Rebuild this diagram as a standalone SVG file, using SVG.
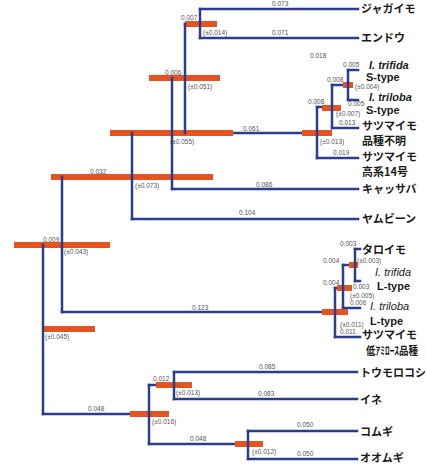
<svg xmlns="http://www.w3.org/2000/svg" width="427" height="465" viewBox="0 0 427 465">
<style>
.br{stroke:#2b3d8e;stroke-width:2.5;fill:none;stroke-linecap:square}
.bar{stroke:#e5531f;stroke-width:6}
.n{font-family:"Liberation Sans",Arial,sans-serif;font-size:6.5px;fill:#555}
.jp{font-family:"Noto Sans CJK JP",sans-serif;font-size:11px;font-weight:bold;fill:#1a1a1a}
.sp{font-family:"Liberation Sans",Arial,sans-serif;font-size:11px;font-style:italic;font-weight:bold;fill:#1a1a1a}
.sr{font-family:"Liberation Sans",Arial,sans-serif;font-size:11px;font-style:italic;fill:#1a1a1a}
.ty{font-family:"Liberation Sans",Arial,sans-serif;font-size:11px;font-weight:bold;fill:#1a1a1a}
</style>
<rect width="427" height="465" fill="#fff"/>
<g id="connectors">
<path class="br" d="M43 245H62 M62 177H132 M132 133H172 M172 78H185 M185 24H200 M317 107H332 M332 85H348 M335 288H343 M343 265H355 M149 385H174 M43 414H149"/>
<path class="br" d="M200 9H358 M200 38H358 M185 133H317 M348 70H358 M348 100H358 M332 128H358 M317 158H358 M172 189H358 M132 219H358 M62 312H335 M355 249H360 M355 281H360 M343 308H360 M335 337H360 M174 372H357 M174 399H357 M149 444H248 M248 431H357 M248 459H357"/>
</g>
<g id="bars">
<line class="bar" x1="42" y1="329" x2="95" y2="329"/>
<line class="bar" x1="14" y1="245" x2="110" y2="245"/>
<line class="bar" x1="51" y1="177" x2="213" y2="177"/>
<line class="bar" x1="110" y1="133" x2="233" y2="133"/>
<line class="bar" x1="149" y1="78" x2="220" y2="78"/>
<line class="bar" x1="185" y1="24" x2="217" y2="24"/>
<line class="bar" x1="302" y1="133" x2="332" y2="133"/>
<line class="bar" x1="322" y1="108" x2="341" y2="108"/>
<line class="bar" x1="343" y1="85" x2="353" y2="85"/>
<line class="bar" x1="322" y1="312" x2="348" y2="312"/>
<line class="bar" x1="337" y1="288" x2="352" y2="288"/>
<line class="bar" x1="349" y1="265" x2="358" y2="265"/>
<line class="bar" x1="130" y1="414" x2="169" y2="414"/>
<line class="bar" x1="156" y1="385" x2="192" y2="385"/>
<line class="bar" x1="235" y1="444" x2="263" y2="444"/>
</g>
<g id="node-root"><path class="br" d="M43 245V414"/><text class="n" x="45" y="339">(±0.045)</text></g>
<g id="node-A"><path class="br" d="M62 177V312"/><text class="n" x="43" y="242">0.009</text><text class="n" x="64" y="254">(±0.043)</text></g>
<g id="node-B"><path class="br" d="M132 133V219"/><text class="n" x="90" y="174">0.032</text><text class="n" x="135" y="188">(±0.073)</text></g>
<g id="node-C"><path class="br" d="M172 78V189"/><text class="n" x="170" y="144">(±0.055)</text></g>
<g id="node-D"><path class="br" d="M185 24V133"/><text class="n" x="165" y="75">0.006</text><text class="n" x="188" y="89">(±0.051)</text></g>
<g id="node-E"><path class="br" d="M200 9V38"/><text class="n" x="181" y="20">0.007</text><text class="n" x="203" y="35">(±0.014)</text></g>
<g id="node-I"><path class="br" d="M317 107V158"/><text class="n" x="308" y="104">0.008</text><text class="n" x="320" y="144">(±0.013)</text></g>
<g id="node-J"><path class="br" d="M332 85V128"/><text class="n" x="327" y="82">0.008</text><text class="n" x="336" y="116">(±0.007)</text></g>
<g id="node-K"><path class="br" d="M348 70V100"/><text class="n" x="355" y="89">(±0.004)</text></g>
<g id="node-L"><path class="br" d="M335 288V337"/><text class="n" x="340" y="327">(±0.011)</text></g>
<g id="node-M"><path class="br" d="M343 265V308"/><text class="n" x="323" y="285">0.004</text><text class="n" x="350" y="298">(±0.005)</text></g>
<g id="node-N"><path class="br" d="M355 249V281"/><text class="n" x="323" y="263">0.004</text><text class="n" x="357" y="263">(±0.003)</text></g>
<g id="node-F"><path class="br" d="M149 385V444"/><text class="n" x="152" y="424">(±0.016)</text></g>
<g id="node-G"><path class="br" d="M174 372V399"/><text class="n" x="153" y="381">0.012</text><text class="n" x="176" y="395">(±0.013)</text></g>
<g id="node-H"><path class="br" d="M248 431V459"/><text class="n" x="252" y="454">(±0.012)</text></g>
<g id="branch-labels">
<text class="n" x="272" y="6">0.073</text>
<text class="n" x="272" y="35">0.071</text>
<text class="n" x="310" y="58">0.018</text>
<text class="n" x="343" y="67">0.005</text>
<text class="n" x="348" y="106">0.005</text>
<text class="n" x="339" y="125">0.013</text>
<text class="n" x="333" y="155">0.019</text>
<text class="n" x="243" y="131">0.061</text>
<text class="n" x="256" y="187">0.086</text>
<text class="n" x="239" y="215">0.104</text>
<text class="n" x="340" y="246">0.003</text>
<text class="n" x="353" y="289">0.003</text>
<text class="n" x="350" y="305">0.006</text>
<text class="n" x="340" y="334">0.011</text>
<text class="n" x="192" y="310">0.123</text>
<text class="n" x="88" y="411">0.048</text>
<text class="n" x="259" y="369">0.085</text>
<text class="n" x="258" y="396">0.083</text>
<text class="n" x="190" y="441">0.048</text>
<text class="n" x="297" y="427">0.050</text>
<text class="n" x="297" y="456">0.050</text>
</g>
<g id="tip-jagaimo"><text class="jp" x="361" y="13">ジャガイモ</text></g>
<g id="tip-endou"><text class="jp" x="361" y="42">エンドウ</text></g>
<g id="tip-trifida-S"><text class="sp" x="369" y="69">I. trifida</text><text class="ty" x="366" y="81">S-type</text></g>
<g id="tip-triloba-S"><text class="sp" x="369" y="101">I. triloba</text><text class="ty" x="366" y="114">S-type</text></g>
<g id="tip-satsumaimo-unknown"><text class="jp" x="362" y="130">サツマイモ</text><text class="jp" x="362" y="145">品種不明</text></g>
<g id="tip-satsumaimo-kokei"><text class="jp" x="362" y="161">サツマイモ</text><text class="jp" x="362" y="176">高系14号</text></g>
<g id="tip-cassava"><text class="jp" x="362" y="193">キャッサバ</text></g>
<g id="tip-yambean"><text class="jp" x="362" y="223">ヤムビーン</text></g>
<g id="tip-taroimo"><text class="jp" x="362" y="254">タロイモ</text></g>
<g id="tip-trifida-L"><text class="sr" x="375" y="276">I. trifida</text><text class="ty" x="377" y="290">L-type</text></g>
<g id="tip-triloba-L"><text class="sr" x="370" y="310">I. triloba</text><text class="ty" x="370" y="325">L-type</text></g>
<g id="tip-satsumaimo-low"><text class="jp" x="362" y="339">サツマイモ</text><text class="jp" x="366" y="355" font-size="10" textLength="52" lengthAdjust="spacingAndGlyphs">低ｱﾐﾛｰｽ品種</text></g>
<g id="tip-corn"><text class="jp" x="360" y="377">トウモロコシ</text></g>
<g id="tip-rice"><text class="jp" x="360" y="404">イネ</text></g>
<g id="tip-wheat"><text class="jp" x="360" y="436">コムギ</text></g>
<g id="tip-barley"><text class="jp" x="360" y="462">オオムギ</text></g>
</svg>
